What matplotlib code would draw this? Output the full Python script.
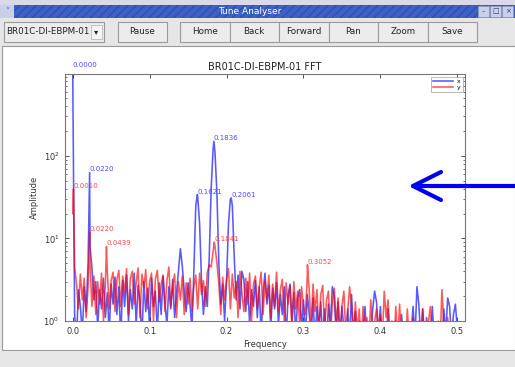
import numpy as np
import matplotlib
matplotlib.use('Agg')
import matplotlib.pyplot as plt
from matplotlib.patches import Rectangle
from matplotlib.lines import Line2D
from matplotlib.ticker import LogLocator, FixedLocator

# spectrum amplitudes on a regular grid (0.0025 .. 0.5)
amp_x = [1.2, 0.6, 2.4, 1.5, 0.7, 2.6, 1.3, 5.0, 8.0, 4.5,
         1.8, 3.0, 0.8, 2.4, 1.4, 3.3, 1.1, 2.2, 0.7, 2.8,
         1.6, 3.4, 1.2, 2.6, 0.6, 3.1, 1.5, 3.6, 1.0, 2.4,
         1.4, 3.8, 0.9, 2.7, 1.7, 0.6, 3.0, 1.3, 2.5, 0.8,
         3.3, 1.5, 2.3, 0.7, 2.9, 1.2, 3.5, 1.6, 0.9, 2.6,
         1.4, 3.2, 1.1, 2.2, 4.0, 7.5, 4.6, 2.3, 1.3, 2.9,
         1.6, 0.8, 4.0, 25.0, 32.0, 15.0, 3.0, 1.2, 2.6, 1.5,
         6.0, 40.0, 120.0, 110.0, 35.0, 5.0, 1.6, 2.8, 1.0, 3.0,
         15.0, 30.0, 25.0, 6.0, 1.8, 3.6, 1.4, 4.0, 3.2, 1.3,
         3.0, 0.9, 2.4, 1.5, 3.1, 1.1, 2.6, 0.7, 2.2, 3.8,
         1.6, 2.7, 0.8, 2.5, 1.4, 2.9, 0.9, 2.1, 1.2, 2.6,
         0.6, 2.0, 2.8, 1.0, 2.2, 0.7, 1.9, 2.4, 0.8, 1.8,
         0.6, 2.1, 1.2, 0.7, 1.9, 0.5, 1.5, 0.8, 1.7, 0.6,
         1.4, 0.5, 1.6, 0.9, 2.6, 2.0, 0.7, 1.7, 0.6, 1.5,
         0.8, 0.5, 1.4, 0.6, 2.1, 0.7, 1.3, 0.5, 1.0, 0.5,
         0.7, 1.5, 0.5, 0.9, 0.6, 1.4, 2.3, 1.7, 0.7, 1.5,
         0.5, 0.9, 0.6, 1.4, 0.5, 0.7, 0.5, 1.0, 0.6, 0.5,
         1.2, 0.6, 0.5, 0.9, 0.5, 0.7, 1.5, 0.6, 2.6, 1.6,
         0.6, 1.4, 0.5, 1.1, 0.6, 0.5, 1.5, 0.6, 0.5, 0.9,
         0.6, 0.5, 1.4, 0.7, 1.9, 1.5, 0.6, 1.2, 1.6, 0.8]

amp_y = [4.5, 2.8, 1.4, 3.7, 1.8, 3.3, 1.1, 2.6, 5.0, 1.5,
         3.5, 1.2, 3.0, 1.6, 3.8, 1.0, 2.8, 4.0, 1.4, 3.1,
         3.9, 1.3, 3.2, 4.1, 1.5, 3.5, 2.2, 4.3, 1.2, 3.3,
         4.0, 1.6, 2.9, 4.4, 1.1, 3.7, 2.5, 4.2, 1.4, 3.0,
         3.8, 1.0, 3.2, 4.1, 1.7, 2.8, 3.6, 1.3, 3.1, 4.5,
         1.5, 2.7, 3.7, 1.1, 3.0, 1.8, 3.5, 1.2, 2.9, 1.6,
         3.3, 1.3, 2.6, 3.6, 1.4, 3.8, 2.1, 3.1, 1.5, 3.9,
         4.8, 4.5, 7.0, 8.0, 5.0, 2.8, 1.2, 3.4, 1.8, 3.2,
         4.3, 1.4, 3.7, 1.9, 3.0, 1.1, 4.0, 2.2, 1.3, 3.3,
         1.6, 3.8, 1.0, 2.8, 3.5, 1.4, 2.6, 3.9, 1.2, 3.1,
         1.8, 3.6, 1.1, 2.8, 1.5, 3.9, 1.3, 2.4, 3.2, 1.0,
         2.9, 1.6, 2.7, 0.8, 3.0, 1.4, 2.3, 0.9, 2.6, 1.5,
         1.2, 3.5, 2.3, 0.9, 2.8, 1.3, 2.4, 0.7, 2.1, 2.7,
         0.8, 1.8, 2.3, 0.6, 1.6, 2.5, 0.9, 1.9, 0.6, 1.5,
         2.3, 0.7, 1.3, 2.6, 1.5, 0.6, 1.7, 0.7, 1.4, 0.5,
         1.5, 0.6, 1.1, 0.5, 1.8, 0.7, 1.0, 1.4, 0.5, 1.2,
         0.6, 2.3, 1.1, 1.8, 0.6, 1.0, 0.5, 1.5, 0.6, 1.6,
         0.5, 0.9, 0.5, 1.4, 0.6, 0.5, 1.1, 0.5, 0.8, 1.0,
         0.5, 1.4, 0.6, 0.5, 1.0, 1.5, 0.5, 0.8, 0.5, 1.0,
         0.5, 2.4, 0.9, 0.6, 1.1, 0.5, 0.9, 0.5, 0.8, 0.5]

# labelled tune peaks
peak_x_freq = [0.0000, 0.0220, 0.1621, 0.1836, 0.2061]
peak_x_amp = [1150.0, 63.0, 34.0, 150.0, 31.0]
peak_y_freq = [0.0010, 0.0220, 0.0439, 0.1841, 0.3052]
peak_y_amp = [40.0, 12.0, 8.0, 9.0, 4.8]
y_dc = 20.0

bpm_name = 'BR01C-DI-EBPM-01'
buttons = ['Home', 'Back', 'Forward', 'Pan', 'Zoom', 'Save']

W, H = 515, 367
freq_grid = np.arange(1, len(amp_x) + 1) * 0.0025


def px(x, y, w, h):
    # pixel box with top-left origin -> figure fraction (l, b, w, h)
    return x / W, 1 - (y + h) / H, w / W, h / H


def merge(amp, pf, pa, extra_f=(), extra_a=()):
    f = np.concatenate([freq_grid, pf, extra_f])
    a = np.concatenate([amp, pa, extra_a])
    order = np.argsort(f, kind='stable')
    return f[order], a[order]


def rect(fig, x, y, w, h, fc, ec='none', lw=0.8, **kw):
    l, b, ww, hh = px(x, y, w, h)
    r = Rectangle((l, b), ww, hh, transform=fig.transFigure, facecolor=fc,
                  edgecolor=ec, linewidth=lw, zorder=-5, **kw)
    fig.add_artist(r)
    return r


def ftext(fig, x, y, s, **kw):
    fig.text(x / W, 1 - y / H, s, zorder=-4, **kw)


fig = plt.figure(figsize=(W / 100, H / 100), dpi=100)
fig.patch.set_facecolor('#e8e8e8')

# window chrome
rect(fig, 0, 0, W, 5, '#d9d9ea')
rect(fig, 0, 5, W, 13, '#3d62c4', hatch='////', ec='#2f52b0', lw=0)
rect(fig, 0, 5, 14, 13, '#c9cfe6')
ftext(fig, 7, 11.5, '\u02c5', ha='center', va='center', fontsize=6, color='#3d62c4')
for i, s in enumerate(['\u2013', '\u25a1', '\u00d7']):
    rect(fig, 478 + i * 12, 6, 11, 11, '#c9cfe6', ec='#8f9ac2', lw=0.5)
    ftext(fig, 483.5 + i * 12, 11.5, s, ha='center', va='center', fontsize=5, color='#333366')
ftext(fig, 250, 11.5, 'Tune Analyser', ha='center', va='center', fontsize=6.5,
      color='white')

# toolbar
rect(fig, 0, 18, W, 28, '#e6e6e6')
rect(fig, 4, 22, 100, 20, '#ececec', ec='#9a9a9a')
ftext(fig, 48, 32, bpm_name, ha='center', va='center', fontsize=6.3, color='#222222')
rect(fig, 91, 25, 11, 14, '#f4f4f4', ec='#b0b0b0', lw=0.5)
ftext(fig, 96.5, 32, '\u25be', ha='center', va='center', fontsize=6, color='#222222')
rect(fig, 118, 22, 49, 20, '#ececec', ec='#9a9a9a')
ftext(fig, 142.5, 32, 'Pause', ha='center', va='center', fontsize=6.3, color='#222222')
for i, s in enumerate(buttons):
    x0 = 180 + i * 49.5
    rect(fig, x0, 22, 49.5, 20, '#ececec', ec='#9a9a9a')
    ftext(fig, x0 + 24.75, 32, s, ha='center', va='center', fontsize=6.3, color='#222222')

# plot canvas and status strip
rect(fig, 2, 46, W - 2, 304, 'white', ec='#9a9a9a')
rect(fig, 0, 351, W, 16, '#e6e6e6')

ax = fig.add_axes(px(65, 74, 400, 247))
ax.set_zorder(2)
fx, ax_x = merge(amp_x, peak_x_freq, peak_x_amp)
fy, ax_y = merge(amp_y, peak_y_freq, peak_y_amp, [0.0], [y_dc])
ax.semilogy(fx, ax_x, color='#0000ff', alpha=0.65, lw=1.15, label='x')
ax.semilogy(fy, ax_y, color='#ff0000', alpha=0.65, lw=1.15, label='y')

for f, a in zip(peak_x_freq, peak_x_amp):
    ax.text(f, a, '%.4f' % f, color='#4a4aff', fontsize=5, ha='left', va='bottom')
for f, a in zip(peak_y_freq, peak_y_amp):
    ax.text(f, a, '%.4f' % f, color='#ff4a4a', fontsize=5, ha='left', va='bottom')

ax.set_xlim(-0.01, 0.51)
ax.set_ylim(1, 980)
ax.xaxis.set_major_locator(FixedLocator([0.0, 0.1, 0.2, 0.3, 0.4, 0.5]))
ax.yaxis.set_major_locator(LogLocator(base=10))
ax.yaxis.set_minor_locator(LogLocator(base=10, subs=np.arange(2, 10)))
ax.tick_params(which='both', direction='in', top=True, right=True,
               labelsize=6, colors='#333333', pad=4)
ax.tick_params(which='major', length=3, width=0.6)
ax.tick_params(which='minor', length=1.5, width=0.5)
for sp in ax.spines.values():
    sp.set_color('#777777')
    sp.set_linewidth(0.8)

ax.set_title(bpm_name + ' FFT', fontsize=7, color='#222222', pad=3)
ax.set_xlabel('Frequency', fontsize=6, color='#333333', labelpad=3)
ax.set_ylabel('Amplitude', fontsize=6, color='#333333', labelpad=3)

leg = ax.legend(loc='upper right', fontsize=4.5, handlelength=3.2, borderpad=0.3,
                labelspacing=0.1, handletextpad=0.6, fancybox=False,
                borderaxespad=0.4)
leg.get_frame().set_edgecolor('#999999')
leg.get_frame().set_linewidth(0.6)

# pointer arrow
arrow_kw = dict(transform=fig.transFigure, color='#0000f0', lw=3.0,
                solid_capstyle='round', zorder=10)
y_a = 1 - 186 / H
fig.add_artist(Line2D([414 / W, 1.0], [y_a, y_a], **arrow_kw))
fig.add_artist(Line2D([413 / W, 441 / W], [y_a, 1 - 172 / H], **arrow_kw))
fig.add_artist(Line2D([413 / W, 441 / W], [y_a, 1 - 200 / H], **arrow_kw))

fig.savefig('out.png', dpi=100)
